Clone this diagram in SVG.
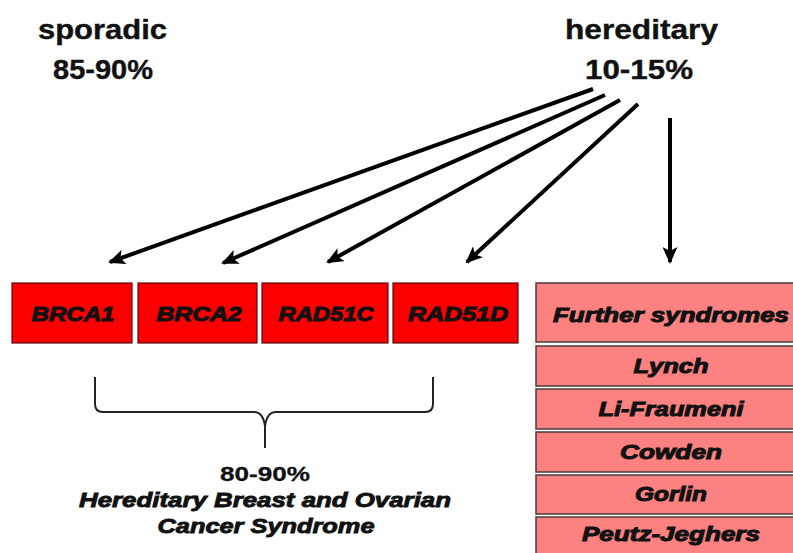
<svg xmlns="http://www.w3.org/2000/svg" width="793" height="553" viewBox="0 0 793 553">
  <style>
    .hdr { font-family: "Liberation Sans", Arial, sans-serif; font-weight: bold; font-size: 28px; fill: #111; stroke: #111; stroke-width: 0.4px; }
    .lbl { font-family: "Liberation Sans", Arial, sans-serif; font-weight: bold; font-style: italic; font-size: 20px; fill: #111; stroke: #111; stroke-width: 1px; text-anchor: middle; }
    .gene { fill: #fb0000; stroke: #5a0a0a; stroke-width: 1.2; }
    .syn { fill: #fc8282; stroke: #4a3a3a; stroke-width: 1.5; }
    .arrow { stroke: #000; stroke-width: 4; fill: none; marker-end: url(#head); }
    .brace { stroke: #222; stroke-width: 2; fill: none; }
    .sum { font-family: "Liberation Sans", Arial, sans-serif; font-weight: bold; font-size: 21px; fill: #111; stroke: #111; stroke-width: 0.3px; text-anchor: middle; }
    .sumi { font-style: italic; stroke-width: 0.9px; }
  </style>
  <defs>
    <marker id="head" markerUnits="userSpaceOnUse" markerWidth="17" markerHeight="15" refX="15" refY="7.5" orient="auto">
      <path d="M0,0 L17,7.5 L0,15 L4,7.5 Z" fill="#000"/>
    </marker>
  </defs>
  <rect width="793" height="553" fill="#fff"/>

  <!-- headings -->
  <g id="sporadic">
    <text class="hdr" x="38" y="39" textLength="129" lengthAdjust="spacingAndGlyphs">sporadic</text>
    <text class="hdr" x="53" y="79" textLength="100" lengthAdjust="spacingAndGlyphs">85-90%</text>
  </g>
  <g id="hereditary">
    <text class="hdr" x="565" y="39" textLength="153" lengthAdjust="spacingAndGlyphs">hereditary</text>
    <text class="hdr" x="585" y="79" textLength="108" lengthAdjust="spacingAndGlyphs">10-15%</text>
  </g>

  <!-- connectors -->
  <g id="connectors">
    <line class="arrow" x1="593" y1="89" x2="110" y2="262"/>
    <line class="arrow" x1="605" y1="95" x2="223" y2="263"/>
    <line class="arrow" x1="620" y1="100" x2="328" y2="262"/>
    <line class="arrow" x1="638" y1="104" x2="467" y2="262"/>
    <line class="arrow" x1="670" y1="118" x2="670" y2="262"/>
  </g>

  <!-- genes -->
  <g id="brca1">
    <rect class="gene" x="12" y="283" width="120" height="60"/>
    <text class="lbl" x="73" y="321" textLength="83" lengthAdjust="spacingAndGlyphs">BRCA1</text>
  </g>
  <g id="brca2">
    <rect class="gene" x="138" y="283" width="119" height="60"/>
    <text class="lbl" x="199" y="321" textLength="85" lengthAdjust="spacingAndGlyphs">BRCA2</text>
  </g>
  <g id="rad51c">
    <rect class="gene" x="262" y="283" width="126" height="60"/>
    <text class="lbl" x="326" y="321" textLength="95" lengthAdjust="spacingAndGlyphs">RAD51C</text>
  </g>
  <g id="rad51d">
    <rect class="gene" x="393" y="283" width="125" height="60"/>
    <text class="lbl" x="458" y="321" textLength="100" lengthAdjust="spacingAndGlyphs">RAD51D</text>
  </g>

  <!-- further syndromes -->
  <g id="further">
    <rect class="syn" x="536" y="283" width="270" height="59"/>
    <text class="lbl" x="671" y="322" textLength="236" lengthAdjust="spacingAndGlyphs">Further syndromes</text>
  </g>
  <g id="lynch">
    <rect class="syn" x="536" y="346" width="270" height="40"/>
    <text class="lbl" x="671" y="373" textLength="75" lengthAdjust="spacingAndGlyphs">Lynch</text>
  </g>
  <g id="li-fraumeni">
    <rect class="syn" x="536" y="389" width="270" height="40"/>
    <text class="lbl" x="671" y="416" textLength="145" lengthAdjust="spacingAndGlyphs">Li-Fraumeni</text>
  </g>
  <g id="cowden">
    <rect class="syn" x="536" y="432" width="270" height="40"/>
    <text class="lbl" x="671" y="459" textLength="102" lengthAdjust="spacingAndGlyphs">Cowden</text>
  </g>
  <g id="gorlin">
    <rect class="syn" x="536" y="475" width="270" height="39"/>
    <text class="lbl" x="671" y="501" textLength="72" lengthAdjust="spacingAndGlyphs">Gorlin</text>
  </g>
  <g id="peutz-jeghers">
    <rect class="syn" x="536" y="517" width="270" height="45"/>
    <text class="lbl" x="671" y="541" textLength="178" lengthAdjust="spacingAndGlyphs">Peutz-Jeghers</text>
  </g>

  <!-- brace grouping the four genes -->
  <g id="hboc">
    <path class="brace" d="M95,377 V404 Q95,412 103,412 H254 Q263,412 265,426 Q267,412 276,412 H425 Q433,412 433,404 V377 M265,424 V448"/>
    <text class="sum" x="265" y="481" textLength="90" lengthAdjust="spacingAndGlyphs">80-90%</text>
    <text class="sum sumi" x="265" y="507" textLength="372" lengthAdjust="spacingAndGlyphs">Hereditary Breast and Ovarian</text>
    <text class="sum sumi" x="266" y="533" textLength="217" lengthAdjust="spacingAndGlyphs">Cancer Syndrome</text>
  </g>
</svg>
